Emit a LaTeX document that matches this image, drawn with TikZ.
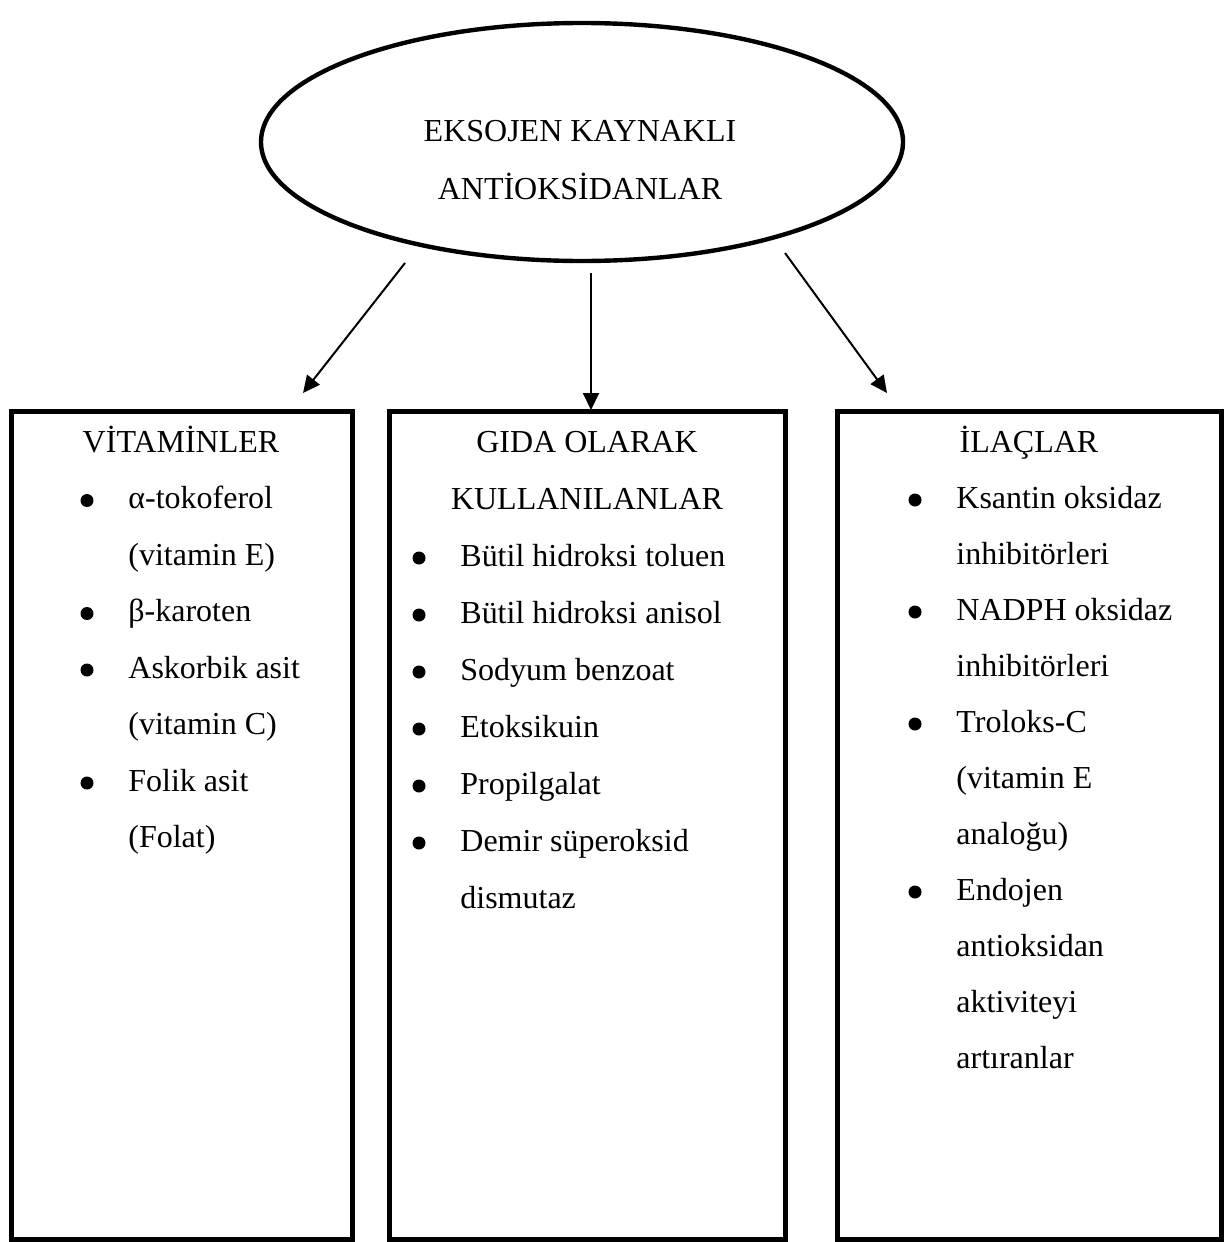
\documentclass[tikz,border=0pt]{standalone}
\usepackage{fontspec}
\setmainfont{Liberation Serif}
\usetikzlibrary{shapes,arrows.meta}

\begin{document}
\begin{tikzpicture}[x=0.5pt, y=-0.5pt, >={Triangle[length=8.5pt,width=8pt]},
  txt/.style={font=\fontsize{16}{19}\selectfont, inner sep=0pt, anchor=base west},
  hdr/.style={font=\fontsize{16}{19}\selectfont, inner sep=0pt, anchor=base},
  dot/.style={circle, fill=black, inner sep=0pt, minimum size=6.5pt},
  box/.style={draw, line width=2.5pt, rectangle, minimum height=414pt}]

\useasboundingbox (0,0) rectangle (1224,1242);

% top ellipse
\node (E) at (582,142) [draw, ellipse, line width=2.2pt, minimum width=321pt, minimum height=119pt] {};
\node (E1) at (580,141) [hdr] {EKSOJEN KAYNAKLI};
\node (E2) at (580,199) [hdr] {ANTİOKSİDANLAR};

% boxes
\node (V) at (181.5,825) [box, minimum width=170.5pt] {};
\node (G) at (587,825) [box, minimum width=198pt] {};
\node (I) at (1029,825) [box, minimum width=192pt] {};

% arrows
\coordinate (aV) at (405,263);
\coordinate (aG) at (591,273);
\coordinate (aI) at (785,253);
\coordinate (tV) at (303,393);
\coordinate (tG) at (591,410);
\coordinate (tI) at (887,393);
\draw[->, line width=1pt] (aV) -- (tV);
\draw[->, line width=1pt] (aG) -- (tG);
\draw[->, line width=1pt] (aI) -- (tI);

% vitaminler
\node (V0) at (181,452) [hdr] {VİTAMİNLER};
\node (Vb1) at (87,500.5) [dot] {};
\node (V1) at (128,508.5) [txt] {α-tokoferol};
\node (V2) at (128,565) [txt] {(vitamin E)};
\node (Vb3) at (87,613.5) [dot] {};
\node (V3) at (128,621.5) [txt] {β-karoten};
\node (Vb4) at (87,670) [dot] {};
\node (V4) at (128,678) [txt] {Askorbik asit};
\node (V5) at (128,734.5) [txt] {(vitamin C)};
\node (Vb6) at (87,783) [dot] {};
\node (V6) at (128,791) [txt] {Folik asit};
\node (V7) at (128,847.5) [txt] {(Folat)};

% gida olarak kullanilanlar
\node (G0) at (587,452) [hdr] {GIDA OLARAK};
\node (G1) at (587,509) [hdr] {KULLANILANLAR};
\node (Gb2) at (419,558) [dot] {};
\node (G2) at (460,566) [txt] {Bütil hidroksi toluen};
\node (Gb3) at (419,615) [dot] {};
\node (G3) at (460,623) [txt] {Bütil hidroksi anisol};
\node (Gb4) at (419,672) [dot] {};
\node (G4) at (460,680) [txt] {Sodyum benzoat};
\node (Gb5) at (419,729) [dot] {};
\node (G5) at (460,737) [txt] {Etoksikuin};
\node (Gb6) at (419,786) [dot] {};
\node (G6) at (460,794) [txt] {Propilgalat};
\node (Gb7) at (419,843) [dot] {};
\node (G7) at (460,851) [txt] {Demir süperoksid};
\node (G8) at (460,908) [txt] {dismutaz};

% ilaclar
\node (I0) at (1029,452) [hdr] {İLAÇLAR};
\node (Ib1) at (915,500) [dot] {};
\node (I1) at (956,508) [txt] {Ksantin oksidaz};
\node (I2) at (956,564) [txt] {inhibitörleri};
\node (Ib3) at (915,612) [dot] {};
\node (I3) at (956,620) [txt] {NADPH oksidaz};
\node (I4) at (956,676) [txt] {inhibitörleri};
\node (Ib5) at (915,724) [dot] {};
\node (I5) at (956,732) [txt] {Troloks-C};
\node (I6) at (956,788) [txt] {(vitamin E};
\node (I7) at (956,844) [txt] {analoğu)};
\node (Ib8) at (915,892) [dot] {};
\node (I8) at (956,900) [txt] {Endojen};
\node (I9) at (956,956) [txt] {antioksidan};
\node (I10) at (956,1012) [txt] {aktiviteyi};
\node (I11) at (956,1068) [txt] {artıranlar};

\end{tikzpicture}
\end{document}
